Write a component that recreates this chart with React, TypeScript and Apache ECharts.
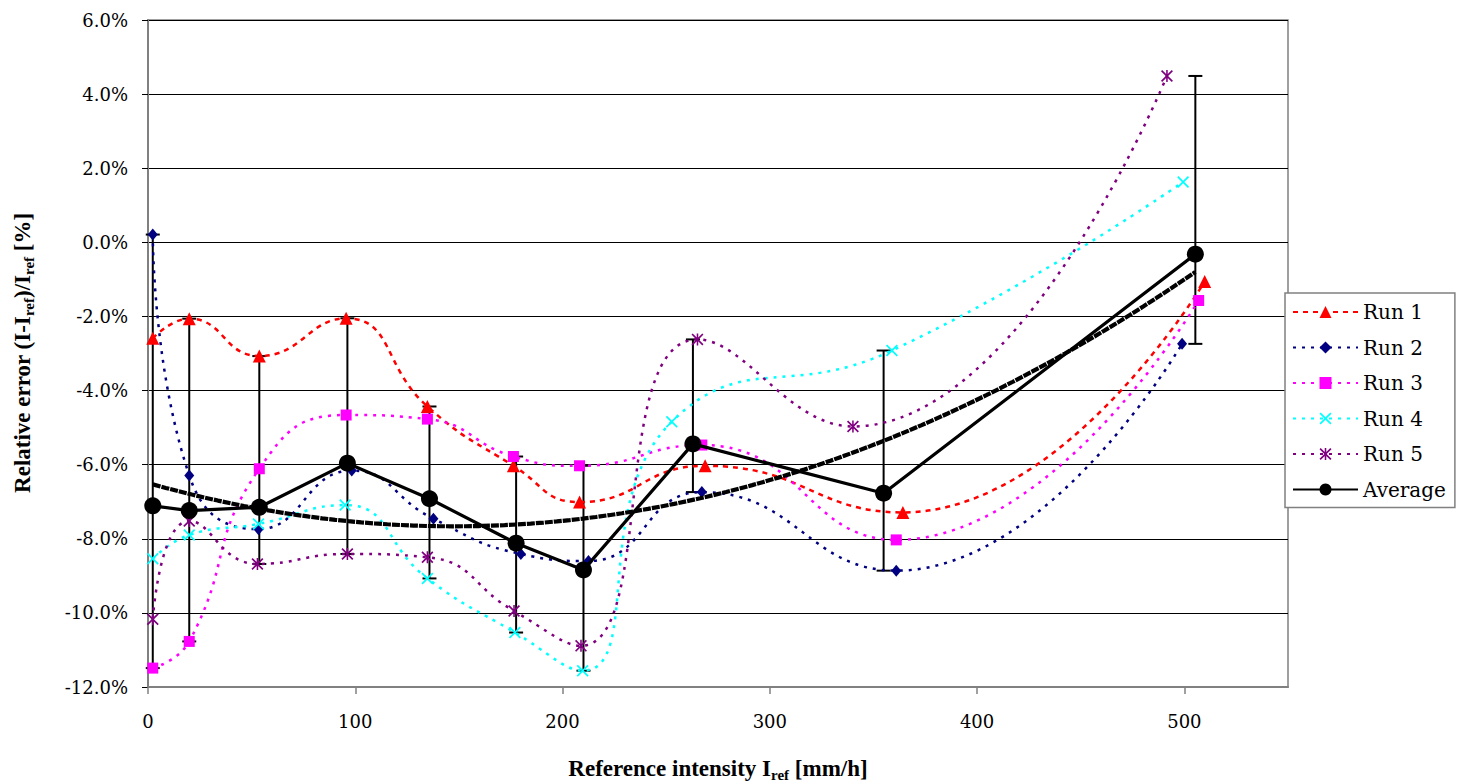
import React, { useEffect, useRef } from "react";
import * as echarts from "echarts";

// ---- data ----
const seriesNames = ["Run 1", "Run 2", "Run 3", "Run 4", "Run 5", "Average"];

const run1X = [2.3, 19.9, 53.7, 95.6, 134.8, 176.3, 208.2, 268.8, 364.2, 509.8];
const run1Y = [-2.59, -2.06, -3.07, -2.05, -4.43, -6.03, -7.01, -6.03, -7.29, -1.06];

const run2X = [2.3, 19.9, 53.3, 98.3, 137.7, 179.9, 212.5, 267.2, 361.0, 498.9];
const run2Y = [0.21, -6.29, -7.74, -6.16, -7.46, -8.41, -8.6, -6.74, -8.86, -2.74];

const run3X = [2.3, 19.9, 53.7, 95.6, 134.8, 176.3, 208.2, 267.2, 361.0, 506.9];
const run3Y = [-11.49, -10.77, -6.11, -4.66, -4.77, -5.78, -6.03, -5.47, -8.03, -1.57];

const run4X = [2.3, 19.9, 53.3, 95.1, 134.8, 177.0, 209.7, 252.7, 358.9, 499.4];
const run4Y = [-8.54, -7.9, -7.6, -7.09, -9.07, -10.53, -11.56, -4.84, -2.92, 1.63];

const run5X = [2.3, 19.9, 52.8, 96.2, 134.8, 176.6, 208.9, 265.1, 340.1, 491.6];
const run5Y = [-10.17, -7.52, -8.68, -8.41, -8.5, -9.95, -10.89, -2.62, -4.97, 4.49];

const avgX = [2.3, 19.9, 53.7, 96.2, 135.8, 177.6, 210.1, 262.9, 354.9, 505.3];
const avgY = [-7.11, -7.24, -7.15, -5.96, -6.92, -8.12, -8.84, -5.44, -6.77, -0.32];

const yTicks = { min: -12, max: 6, step: 2 };
const xTicks = { min: 0, max: 550, step: 100 };

// error bars span the run values (min .. max) at each average point
const runYs = [run1Y, run2Y, run3Y, run4Y, run5Y];
const errLow = avgX.map((_, i) => Math.min(...runYs.map((r) => r[i])));
const errHigh = avgX.map((_, i) => Math.max(...runYs.map((r) => r[i])));

// 2nd-order polynomial trendline of the average (least squares, as in the source chart)
function polyFit2(xs: number[], ys: number[]) {
  const S = [0, 0, 0, 0, 0];
  const T = [0, 0, 0];
  xs.forEach((x, i) => {
    for (let k = 0; k < 5; k++) S[k] += Math.pow(x, k);
    for (let k = 0; k < 3; k++) T[k] += Math.pow(x, k) * ys[i];
  });
  const M = [
    [S[0], S[1], S[2], T[0]],
    [S[1], S[2], S[3], T[1]],
    [S[2], S[3], S[4], T[2]],
  ];
  for (let c = 0; c < 3; c++) {
    for (let r = c + 1; r < 3; r++) {
      const f = M[r][c] / M[c][c];
      for (let k = c; k < 4; k++) M[r][k] -= f * M[c][k];
    }
  }
  const coef = [0, 0, 0];
  for (let r = 2; r >= 0; r--) {
    let s = M[r][3];
    for (let k = r + 1; k < 3; k++) s -= M[r][k] * coef[k];
    coef[r] = s / M[r][r];
  }
  return coef;
}

const xPath =
  "path://M0,1 L1,0 L5,4 L9,0 L10,1 L6,5 L10,9 L9,10 L5,6 L1,10 L0,9 L4,5 Z";
const starPath =
  "path://M0,1 L1,0 L5,4 L9,0 L10,1 L6,5 L10,9 L9,10 L5,6 L1,10 L0,9 L4,5 Z M4.35,0 L5.65,0 L5.65,10 L4.35,10 Z";

export default function App() {
  const ref = useRef<HTMLDivElement>(null);

  useEffect(() => {
    if (!ref.current) return;
    const chart = echarts.init(ref.current, null, { renderer: "svg" });

    const coef = polyFit2(avgX, avgY);
    const trend: number[][] = [];
    const n = 80;
    const x0 = avgX[0];
    const x1 = avgX[avgX.length - 1];
    for (let i = 0; i <= n; i++) {
      const x = x0 + ((x1 - x0) * i) / n;
      trend.push([x, coef[0] + coef[1] * x + coef[2] * x * x]);
    }

    const runSeries = (
      name: string,
      xs: number[],
      ys: number[],
      color: string,
      symbol: string,
      size: number | number[],
      dash: number[]
    ) => ({
      name,
      type: "line",
      data: xs.map((v, i) => [v, ys[i]]),
      smooth: 0.5,
      symbol,
      symbolSize: size,
      showAllSymbol: true,
      lineStyle: { color, width: 2.5, type: dash },
      itemStyle: { color, borderWidth: 0 },
      z: 3,
    });

    const axisFont = { fontFamily: "DejaVu Serif", fontSize: 18, color: "#000" };

    const option: any = {
      animation: false,
      backgroundColor: "#fff",
      grid: {
        left: 148,
        right: 182,
        top: 20,
        bottom: 95,
        show: true,
        borderColor: "#808080",
        borderWidth: 1.5,
        backgroundColor: "transparent",
      },
      xAxis: {
        type: "value",
        min: xTicks.min,
        max: xTicks.max,
        interval: xTicks.step,
        axisLine: { show: true, onZero: false, lineStyle: { color: "#808080", width: 2 } },
        axisTick: { show: true, inside: false, length: 7, lineStyle: { color: "#808080", width: 1.5 } },
        axisLabel: { ...axisFont, margin: 25, showMaxLabel: false },
        splitLine: { show: false },
      },
      yAxis: {
        type: "value",
        min: yTicks.min,
        max: yTicks.max,
        interval: yTicks.step,
        axisLine: { show: true, onZero: false, lineStyle: { color: "#808080", width: 2 } },
        axisTick: { show: true, inside: false, length: 6, lineStyle: { color: "#000", width: 1 } },
        axisLabel: {
          ...axisFont,
          margin: 20,
          formatter: (v: number) => v.toFixed(1) + "%",
        },
        splitLine: { show: true, lineStyle: { color: "#000", width: 1 } },
      },
      legend: {
        orient: "vertical",
        left: 1285,
        top: 293,
        data: seriesNames,
        backgroundColor: "#fff",
        borderColor: "#808080",
        borderWidth: 1.5,
        borderRadius: 0,
        padding: [9, 9, 8, 7],
        itemWidth: 65,
        itemHeight: 15,
        itemGap: 15.5,
        textStyle: { fontFamily: "DejaVu Serif", fontSize: 20, color: "#000", lineHeight: 20 },
        selectedMode: false,
      },
      graphic: [
        {
          type: "text",
          x: 718,
          y: 768,
          style: {
            text: "{m|Reference intensity I}{s|ref}{m| [mm/h]}",
            align: "center",
            verticalAlign: "middle",
            rich: {
              m: { fontFamily: "Liberation Serif", fontWeight: "bold", fontSize: 23, lineHeight: 28, fill: "#000" },
              s: { fontFamily: "Liberation Serif", fontWeight: "bold", fontSize: 15, verticalAlign: "bottom", fill: "#000" },
            },
          },
        },
        {
          type: "text",
          x: 22,
          y: 353,
          rotation: Math.PI / 2,
          style: {
            text: "{m|Relative error (I-I}{s|ref}{m|)/I}{s|ref}{m| [%]}",
            align: "center",
            verticalAlign: "middle",
            rich: {
              m: { fontFamily: "Liberation Serif", fontWeight: "bold", fontSize: 23, lineHeight: 28, fill: "#000" },
              s: { fontFamily: "Liberation Serif", fontWeight: "bold", fontSize: 15, verticalAlign: "bottom", fill: "#000" },
            },
          },
        },
      ],
      series: [
        {
          name: "errbars",
          type: "custom",
          data: avgX.map((x, i) => [x, errLow[i], errHigh[i]]),
          encode: { x: 0, y: [1, 2] },
          z: 2,
          renderItem: (params: any, api: any) => {
            const x = api.value(0);
            const lo = api.coord([x, api.value(1)]);
            const hi = api.coord([x, api.value(2)]);
            const w = 7;
            const st = { stroke: "#000", lineWidth: 2 };
            return {
              type: "group",
              children: [
                { type: "line", shape: { x1: lo[0], y1: lo[1], x2: hi[0], y2: hi[1] }, style: st },
                { type: "line", shape: { x1: lo[0] - w, y1: lo[1], x2: lo[0] + w, y2: lo[1] }, style: st },
                { type: "line", shape: { x1: hi[0] - w, y1: hi[1], x2: hi[0] + w, y2: hi[1] }, style: st },
              ],
            };
          },
        },
        runSeries(seriesNames[0], run1X, run1Y, "#FF0000", "triangle", 13, [5, 5]),
        runSeries(seriesNames[1], run2X, run2Y, "#000080", "diamond", [10, 12], [3, 6]),
        runSeries(seriesNames[2], run3X, run3Y, "#FF00FF", "rect", 11, [3, 6]),
        runSeries(seriesNames[3], run4X, run4Y, "#00FFFF", xPath, 12, [3, 6]),
        runSeries(seriesNames[4], run5X, run5Y, "#800080", starPath, 12, [3, 6]),
        {
          name: "trend",
          type: "line",
          data: trend,
          symbol: "none",
          smooth: false,
          lineStyle: { color: "#000", width: 4.2, type: [8, 1] },
          z: 4,
        },
        {
          name: seriesNames[5],
          type: "line",
          data: avgX.map((v, i) => [v, avgY[i]]),
          symbol: "circle",
          symbolSize: 17,
          lineStyle: { color: "#000", width: 3.2 },
          itemStyle: { color: "#000" },
          z: 5,
        },
      ],
    };

    chart.setOption(option);
    return () => chart.dispose();
  }, []);

  return (
    <div
      ref={ref}
      style={{ position: "fixed", left: 0, top: 0, width: 1470, height: 782, background: "#fff" }}
    />
  );
}
